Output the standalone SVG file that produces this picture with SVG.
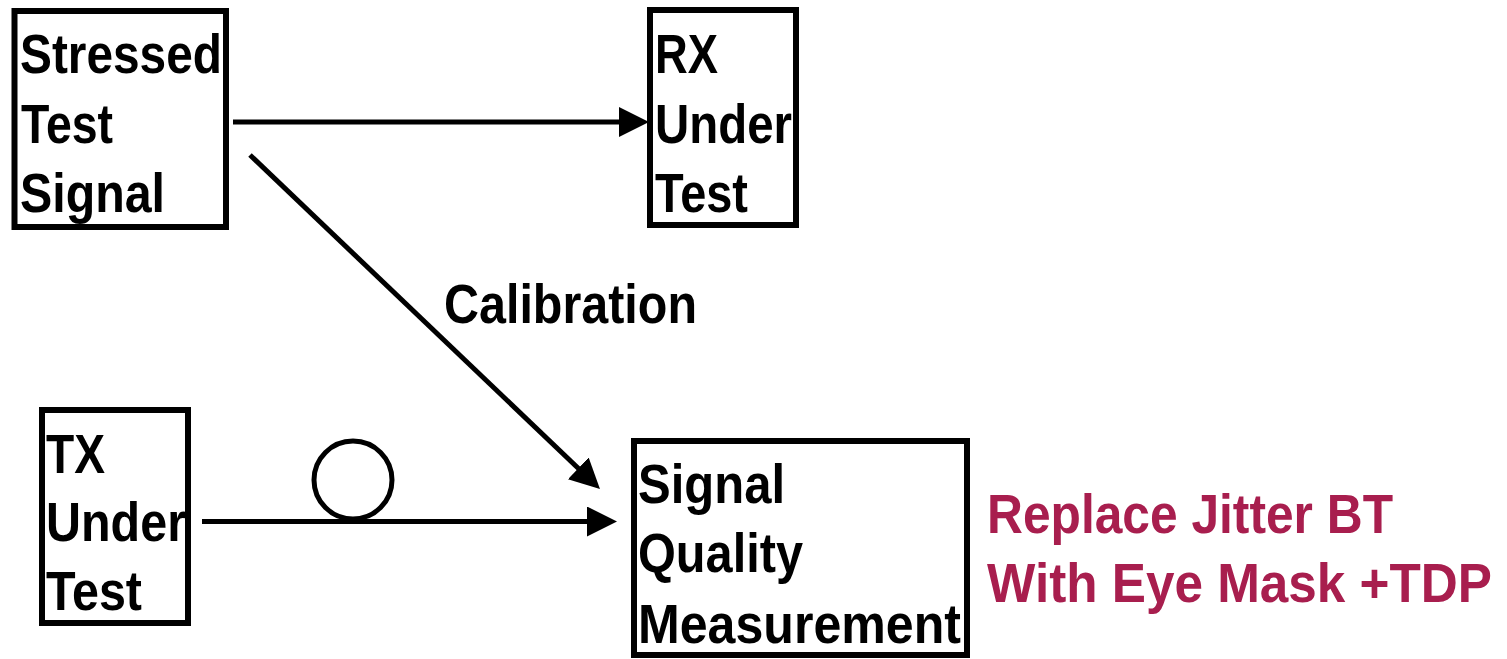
<svg xmlns="http://www.w3.org/2000/svg" width="1507" height="659" viewBox="0 0 1507 659">
<style>
.box{fill:#fff;stroke:#000;stroke-width:6}
.t{font-family:"Liberation Sans Narrow","Liberation Sans",Arial,sans-serif;font-weight:bold;font-size:56px;fill:#000}
.red{fill:#A81E4E}
.conn{stroke:#000;stroke-width:5;fill:none}
</style>
<defs>
<marker id="ah" markerUnits="userSpaceOnUse" markerWidth="32" markerHeight="32" refX="1" refY="15" orient="auto">
<path d="M0,0 L30,15 L0,30 Z" fill="#000"/>
</marker>
</defs>
<rect width="1507" height="659" fill="#fff"/>
<g id="connectors">
<line class="conn" x1="233" y1="122" x2="620" y2="122" marker-end="url(#ah)"/>
<line class="conn" x1="250" y1="155" x2="579" y2="469" marker-end="url(#ah)"/>
<line class="conn" x1="202" y1="521.5" x2="588" y2="521.5" marker-end="url(#ah)"/>
<circle class="conn" cx="353" cy="480" r="39"/>
<text class="t" x="444" y="323" textLength="253" lengthAdjust="spacingAndGlyphs">Calibration</text>
</g>
<g id="stressed">
<rect class="box" x="14.5" y="11" width="211.5" height="216"/>
<text class="t" x="20" y="73" textLength="202" lengthAdjust="spacingAndGlyphs">Stressed</text>
<text class="t" x="21" y="143" textLength="92" lengthAdjust="spacingAndGlyphs">Test</text>
<text class="t" x="20" y="212" textLength="145" lengthAdjust="spacingAndGlyphs">Signal</text>
</g>
<g id="rx">
<rect class="box" x="650" y="10" width="146" height="215"/>
<text class="t" x="655" y="73" textLength="63" lengthAdjust="spacingAndGlyphs">RX</text>
<text class="t" x="655" y="143" textLength="137" lengthAdjust="spacingAndGlyphs">Under</text>
<text class="t" x="655" y="212" textLength="93" lengthAdjust="spacingAndGlyphs">Test</text>
</g>
<g id="tx">
<rect class="box" x="42" y="410" width="146" height="213"/>
<text class="t" x="46" y="473" textLength="59" lengthAdjust="spacingAndGlyphs">TX</text>
<text class="t" x="46" y="541" textLength="140" lengthAdjust="spacingAndGlyphs">Under</text>
<text class="t" x="46" y="610" textLength="96" lengthAdjust="spacingAndGlyphs">Test</text>
</g>
<g id="sqm">
<rect class="box" x="634" y="441" width="333" height="214"/>
<text class="t" x="638" y="503" textLength="147" lengthAdjust="spacingAndGlyphs">Signal</text>
<text class="t" x="638" y="572" textLength="165" lengthAdjust="spacingAndGlyphs">Quality</text>
<text class="t" x="638" y="643" textLength="323" lengthAdjust="spacingAndGlyphs">Measurement</text>
</g>
<g id="note">
<text class="t red" x="987" y="533" textLength="406" lengthAdjust="spacingAndGlyphs">Replace Jitter BT</text>
<text class="t red" x="987" y="602" textLength="505" lengthAdjust="spacingAndGlyphs">With Eye Mask +TDP</text>
</g>
</svg>
